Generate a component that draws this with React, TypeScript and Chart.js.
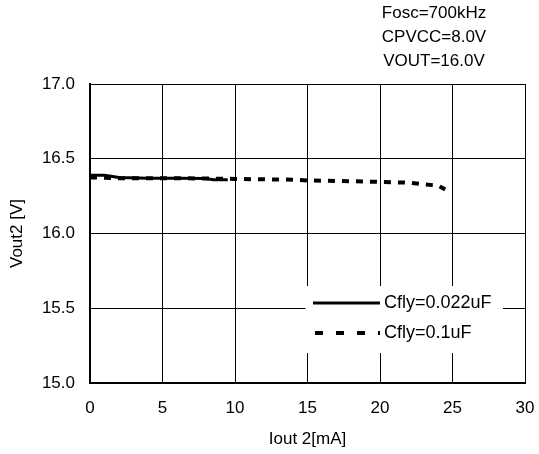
import React, { useEffect, useRef } from "react";
import { Chart, registerables } from "chart.js";

Chart.register(...registerables);

const solidX = [0, 1, 2, 4, 6, 8, 8.5, 9.5];
const solidY = [16.39, 16.39, 16.375, 16.37, 16.37, 16.368, 16.36, 16.36];
const dashX = [0, 2, 5, 8, 10, 14, 15, 18, 20, 22, 23, 24, 24.5];
const dashY = [16.375, 16.37, 16.37, 16.368, 16.365, 16.36, 16.355, 16.35, 16.345, 16.34, 16.33, 16.32, 16.295];
const seriesNames = ["Cfly=0.022uF", "Cfly=0.1uF"];
const notes = ["Fosc=700kHz", "CPVCC=8.0V", "VOUT=16.0V"];
const xTitle = "Iout 2[mA]";
const yTitle = "Vout2 [V]";

const FONT = "'Liberation Sans', Arial, sans-serif";

const overlay = {
  id: "overlay",
  afterDatasetsDraw(chart: any) {
    const ctx = chart.ctx;
    ctx.save();
    ctx.fillStyle = "#fff";
    ctx.fillRect(305.5, 286, 197.5, 67);
    ctx.strokeStyle = "#000";
    ctx.lineWidth = 3;
    ctx.setLineDash([]);
    ctx.beginPath();
    ctx.moveTo(313, 303);
    ctx.lineTo(380, 303);
    ctx.stroke();
    ctx.lineWidth = 4;
    ctx.setLineDash([8, 13]);
    ctx.beginPath();
    ctx.moveTo(315, 333);
    ctx.lineTo(380, 333);
    ctx.stroke();
    ctx.setLineDash([]);
    ctx.fillStyle = "#000";
    ctx.font = `18px ${FONT}`;
    ctx.textBaseline = "middle";
    ctx.textAlign = "left";
    ctx.fillText(seriesNames[0], 384, 303);
    ctx.fillText(seriesNames[1], 384, 333);
    ctx.font = `17px ${FONT}`;
    ctx.textAlign = "center";
    notes.forEach((t, i) => ctx.fillText(t, 434, 13 + i * 24));
    ctx.restore();
  },
};

export default function App() {
  const ref = useRef<HTMLCanvasElement>(null);
  useEffect(() => {
    const chart = new Chart(ref.current!, {
      type: "line",
      data: {
        datasets: [
          {
            label: seriesNames[0],
            data: solidX.map((x, i) => ({ x, y: solidY[i] })),
            borderColor: "#000",
            borderWidth: 3,
            pointRadius: 0,
            tension: 0,
          },
          {
            label: seriesNames[1],
            data: dashX.map((x, i) => ({ x, y: dashY[i] })),
            borderColor: "#000",
            borderWidth: 4,
            borderDash: [7, 7],
            pointRadius: 0,
            tension: 0,
          },
        ],
      },
      options: {
        animation: false,
        responsive: false,
        layout: { padding: { top: 84, right: 14, left: 0, bottom: 0 } },
        plugins: { legend: { display: false }, tooltip: { enabled: false } },
        scales: {
          x: {
            type: "linear",
            min: 0,
            max: 30,
            ticks: { stepSize: 5, color: "#000", font: { family: FONT, size: 17 }, padding: 15 },
            grid: { color: "#000", lineWidth: 1, drawTicks: false },
            border: { color: "#000", width: 2 },
            title: { display: true, text: xTitle, color: "#000", font: { family: FONT, size: 17 }, padding: { top: 8 } },
            afterFit: (s: any) => { s.height = 71; s.paddingRight = 0; s.paddingLeft = 0; },
          },
          y: {
            min: 15,
            max: 17,
            ticks: {
              stepSize: 0.5,
              color: "#000",
              font: { family: FONT, size: 17 },
              padding: 15,
              callback: (v: any) => Number(v).toFixed(1),
            },
            grid: { color: "#000", lineWidth: 1, drawTicks: false },
            border: { color: "#000", width: 2 },
            title: { display: true, text: yTitle, color: "#000", font: { family: FONT, size: 17 }, padding: { top: 7, bottom: 0 } },
            afterFit: (s: any) => { s.width = 90; s.paddingTop = 0; s.paddingBottom = 0; },
          },
        },
      },
      plugins: [overlay],
    });
    return () => chart.destroy();
  }, []);
  return (
    <div style={{ position: "fixed", left: 0, top: 0, width: 539, height: 454, background: "#fff" }}>
      <canvas ref={ref} width={539} height={454} style={{ width: 539, height: 454 }} />
    </div>
  );
}
